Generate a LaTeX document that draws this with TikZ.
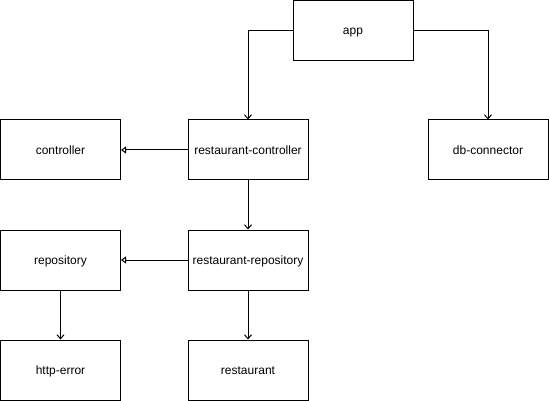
\documentclass[tikz,border=0pt]{standalone}
\usepackage{fontspec}
\setmainfont{Liberation Sans}
\usetikzlibrary{arrows.meta}
\begin{document}
\begin{tikzpicture}[x=1pt,y=-1pt,
  box/.style={draw=black,line width=1pt,minimum width=120pt,minimum height=60pt,inner sep=0pt,text height=9pt,text depth=0pt,font=\fontsize{12}{14}\selectfont},
  dep/.style={line width=1pt,-{Straight Barb[length=4pt,width=7pt]}},
  inh/.style={line width=1pt,-{Triangle[open,length=5pt,width=7pt]}}]
\useasboundingbox (0,0) rectangle (549,401);
\node[box] (app) at (353,30.5) {app};
\node[box] (rc) at (248,150) {restaurant-controller};
\node[box] (db) at (488,150) {db-connector};
\node[box] (ctrl) at (60.5,150) {controller};
\node[box] (rr) at (248,260) {restaurant-repository};
\node[box] (repo) at (60.5,260) {repository};
\node[box] (he) at (60.5,370) {http-error};
\node[box] (rest) at (248,370) {restaurant};
\draw[dep] (app.west) -| (rc.north);
\draw[dep] (app.east) -| (db.north);
\draw[inh] (rc.west) -- (ctrl.east);
\draw[dep] (rc.south) -- (rr.north);
\draw[inh] (rr.west) -- (repo.east);
\draw[dep] (repo.south) -- (he.north);
\draw[dep] (rr.south) -- (rest.north);
\end{tikzpicture}
\end{document}
